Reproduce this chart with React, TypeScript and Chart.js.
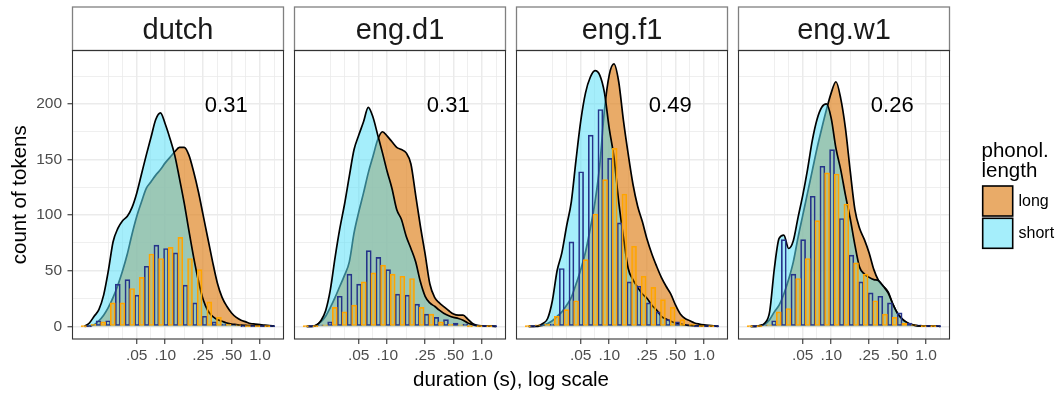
import React, { useEffect, useRef } from 'react';
import { Chart, registerables } from 'chart.js';

Chart.register(...registerables);

const FONT = "'Liberation Sans', Arial, Helvetica, sans-serif";

// ---- facets and annotations -------------------------------------------
const LANGUAGES = ['dutch', 'eng.d1', 'eng.f1', 'eng.w1'];
const OVERLAP_LABELS = ['0.31', '0.31', '0.49', '0.26'];
const OVERLAP_LABEL_X = 0.44; // seconds
const OVERLAP_LABEL_Y = 200; // tokens

const LENGTH_GROUPS = ['long', 'short'];
const LEGEND_TITLE = ['phonol.', 'length'];
const X_TITLE = 'duration (s), log scale';
const Y_TITLE = 'count of tokens';

// ---- axes ---------------------------------------------------------------
const X_BREAKS = [0.05, 0.1, 0.25, 0.5, 1.0];
const X_BREAK_LABELS = ['.05', '.10', '.25', '.50', '1.0'];
const X_MINOR_BREAKS = [0.025, 0.03536, 0.07071, 0.1581, 0.3536, 0.7071, 1.414];
const X_LIMITS = [0.01051, 1.7701];

const Y_BREAKS = [0, 50, 100, 150, 200];
const Y_MINOR_BREAKS = [25, 75, 125, 175, 225];
const Y_LIMITS = [-11.43, 248.1];

// ---- histogram bins (bin centres, seconds) ------------------------------
const BIN_CENTERS = [
  0.01472, 0.01861, 0.02351, 0.02973, 0.03758, 0.04751, 0.06007, 0.07594, 0.09601, 0.1214,
  0.1535, 0.1941, 0.2453, 0.3101, 0.392, 0.4957, 0.6266, 0.7921, 1.0016, 1.2663,
];

const DUTCH_LONG_COUNTS = [0, 2, 4, 21, 21, 34, 44, 65, 61, 71, 80, 61, 51, 22, 8, 2, 1, 0, 0, 0];
const DUTCH_SHORT_COUNTS = [0, 5, 5, 38, 42, 28, 54, 73, 70, 66, 37, 21, 9, 4, 2, 1, 0, 0, 0, 0];
const ENGD1_LONG_COUNTS = [0, 0, 1, 17, 13, 19, 40, 48, 55, 47, 45, 43, 17, 11, 4, 2, 1, 0, 0, 0];
const ENGD1_SHORT_COUNTS = [0, 1, 4, 27, 47, 38, 68, 62, 51, 29, 28, 20, 11, 8, 6, 3, 2, 1, 0, 0];
const ENGF1_LONG_COUNTS = [0, 1, 2, 9, 15, 23, 60, 101, 132, 160, 119, 72, 45, 35, 24, 17, 6, 2, 0, 0];
const ENGF1_SHORT_COUNTS = [0, 1, 2, 52, 76, 139, 172, 195, 151, 93, 40, 36, 21, 13, 6, 4, 1, 0, 0, 0];
const ENGW1_LONG_COUNTS = [0, 0, 1, 13, 16, 43, 61, 95, 138, 137, 110, 57, 47, 23, 11, 8, 3, 1, 0, 0];
const ENGW1_SHORT_COUNTS = [0, 1, 5, 78, 47, 78, 117, 144, 159, 97, 64, 40, 30, 27, 21, 12, 3, 1, 0, 0];

// ---- density curves, scaled to counts ------------------------------------
const DENSITY_GRID = [
  0.01413, 0.01585, 0.01778, 0.01995, 0.02239, 0.02512, 0.02818, 0.03162, 0.03548, 0.03981,
  0.04467, 0.05012, 0.05623, 0.0631, 0.07079, 0.07943, 0.08913, 0.1, 0.1122, 0.1259,
  0.1413, 0.1585, 0.1778, 0.1995, 0.2239, 0.2512, 0.2818, 0.3162, 0.3548, 0.3981,
  0.4467, 0.5012, 0.5623, 0.631, 0.7079, 0.7943, 0.8913, 1.0, 1.122, 1.259, 1.413,
];

const DUTCH_LONG_DENSITY = [
  0, 0.5, 1.5, 5, 10, 17, 26, 37, 50, 65, 83, 99, 112, 124, 130, 136, 141, 147, 152, 157,
  161, 161, 154, 139, 121, 100, 79, 58, 39, 26, 18, 12, 8, 5.5, 4, 2.5, 2, 1.5, 1, 0.7, 0.3,
];
const DUTCH_SHORT_DENSITY = [
  0, 3, 9, 15, 28, 50, 76, 88, 95, 99, 107, 120, 137, 154, 170, 186, 192, 182, 169, 154,
  133, 111, 86, 62, 41, 24, 14, 9, 6, 4.5, 3, 2, 1.5, 1, 0.8, 0.6, 0.5, 0.5, 0.4, 0.3, 0.2,
];
const ENGD1_LONG_DENSITY = [
  0, 0, 1, 4, 9, 17, 26, 36, 46, 58, 84, 103, 120, 138, 153, 168, 175, 171, 166, 161,
  159, 156, 146, 118, 90, 65, 38, 26, 21, 17.5, 14, 11, 10, 10, 6.5, 2.5, 0.8, 0.3, 0.2, 0.1, 0,
];
const ENGD1_SHORT_DENSITY = [
  0, 0, 1, 5, 14, 33, 62, 88, 110, 135, 159, 172, 184, 197, 188, 172, 156, 139, 124, 105,
  96, 81, 70, 58, 40, 27, 21, 18, 14.5, 11.5, 9.5, 8, 7, 5.5, 3, 1.5, 0.5, 0.3, 0.2, 0.1, 0,
];
const ENGF1_LONG_DENSITY = [
  0, 0, 0, 1, 2.5, 5, 9, 13, 19, 26, 38, 51, 67, 88, 112, 145, 195, 226, 236, 220,
  185, 155, 128, 108, 94, 78, 65, 54, 44, 36, 29, 19, 11, 7, 5, 3, 2, 1.3, 0.8, 0.4, 0.2,
];
const ENGF1_SHORT_DENSITY = [
  0, 0, 0.5, 2.5, 7, 23, 50, 66, 90, 112, 150, 185, 210, 224, 230, 226, 210, 178, 152, 112,
  80, 52, 42, 35, 29, 25, 19, 14.5, 9, 6.5, 4.5, 3, 2, 1.2, 0.8, 0.5, 0.4, 0.3, 0.2, 0.1, 0,
];
const ENGW1_LONG_DENSITY = [
  0, 0, 0.5, 2, 6, 13, 19, 29, 42, 58, 80, 100, 120, 140, 160, 178, 195, 210, 220, 205,
  178, 140, 105, 88, 78, 66, 51, 41, 36, 31, 20, 11.5, 6.5, 3, 1.5, 0.6, 0.3, 0.2, 0.1, 0.1, 0,
];
const ENGW1_SHORT_DENSITY = [
  0, 0, 0.8, 3, 13, 52, 79, 82, 70, 77, 98, 118, 141, 167, 186, 197, 200, 187, 160, 141,
  118, 97, 73, 53, 47, 44, 42, 41, 36, 30, 20, 11.5, 6.5, 3.5, 1.5, 0.6, 0.3, 0.2, 0.1, 0.1, 0,
];

const FACETS = [
  { long: DUTCH_LONG_DENSITY, short: DUTCH_SHORT_DENSITY, longN: DUTCH_LONG_COUNTS, shortN: DUTCH_SHORT_COUNTS },
  { long: ENGD1_LONG_DENSITY, short: ENGD1_SHORT_DENSITY, longN: ENGD1_LONG_COUNTS, shortN: ENGD1_SHORT_COUNTS },
  { long: ENGF1_LONG_DENSITY, short: ENGF1_SHORT_DENSITY, longN: ENGF1_LONG_COUNTS, shortN: ENGF1_SHORT_COUNTS },
  { long: ENGW1_LONG_DENSITY, short: ENGW1_SHORT_DENSITY, longN: ENGW1_LONG_COUNTS, shortN: ENGW1_SHORT_COUNTS },
];

// ---- styling --------------------------------------------------------------
const LONG_FILL = 'rgba(224,135,40,0.7)';
const SHORT_FILL = 'rgba(91,224,248,0.55)';
const LONG_BAR_FILL = 'rgba(255,165,0,0.28)';
const LONG_BAR_LINE = '#FFA500';
const SHORT_BAR_LINE = '#25338A';
const GRID_COLOR = '#EBEBEB';
const TICK_TEXT = '#4D4D4D';

const CANVAS_W = 1059;
const CANVAS_H = 393;
const PANEL_LEFT = 72.5;
const PANEL_STEP = 222;
const PANEL_W = 211;
const PANEL_TOP = 50.5;
const PANEL_BOTTOM = 339;
const STRIP_TOP = 7;
const Y_AXIS_W = 72.5;
const X_AXIS_H = 40;

const near = (a: number, b: number) => Math.abs(a - b) / Math.abs(b || 1) < 1e-3;
const isMajorX = (v: number) => X_BREAKS.some((b) => near(v, b));
const isMajorY = (v: number) => Y_BREAKS.some((b) => near(v, b));

const facetDecor = {
  id: 'facetDecor',
  afterDraw(chart: any, _args: any, opts: any) {
    const { ctx, chartArea } = chart;
    const { left, top, right, bottom } = chartArea;
    const w = right - left;
    ctx.save();

    // strip with facet name
    ctx.fillStyle = '#FFFFFF';
    ctx.fillRect(left, STRIP_TOP, w, top - STRIP_TOP);
    ctx.strokeStyle = '#808080';
    ctx.lineWidth = 1.3;
    ctx.strokeRect(left, STRIP_TOP, w, top - STRIP_TOP);
    ctx.fillStyle = '#1A1A1A';
    ctx.font = `29px ${FONT}`;
    ctx.textAlign = 'center';
    ctx.textBaseline = 'alphabetic';
    ctx.fillText(opts.strip, left + w / 2, top - 11.2);

    // panel border
    ctx.strokeStyle = '#333333';
    ctx.lineWidth = 1.1;
    ctx.strokeRect(left, top, w, bottom - top);

    // overlap value
    const xs = chart.scales.x;
    const ys = chart.scales.y;
    ctx.fillStyle = '#000000';
    ctx.font = `22px ${FONT}`;
    ctx.fillText(opts.note, xs.getPixelForValue(OVERLAP_LABEL_X), ys.getPixelForValue(OVERLAP_LABEL_Y) + 8);

    if (opts.axisTitles) {
      ctx.font = `20.5px ${FONT}`;
      ctx.textBaseline = 'middle';
      ctx.fillText(X_TITLE, (PANEL_LEFT + PANEL_LEFT + 3 * PANEL_STEP + PANEL_W) / 2, 380);
      ctx.save();
      ctx.translate(20, (PANEL_TOP + PANEL_BOTTOM) / 2);
      ctx.rotate(-Math.PI / 2);
      ctx.fillText(Y_TITLE, 0, 0);
      ctx.restore();
    }

    if (opts.legend) {
      ctx.textAlign = 'left';
      ctx.textBaseline = 'alphabetic';
      ctx.font = `20.5px ${FONT}`;
      ctx.fillStyle = '#000000';
      ctx.fillText(LEGEND_TITLE[0], 981.5, 156.5);
      ctx.fillText(LEGEND_TITLE[1], 981.5, 177);
      const fills = [LONG_FILL, SHORT_FILL];
      LENGTH_GROUPS.forEach((g, i) => {
        const y = 186 + i * 32.3;
        ctx.fillStyle = '#FFFFFF';
        ctx.fillRect(982.7, y, 30, 30);
        ctx.fillStyle = fills[i];
        ctx.fillRect(982.7, y, 30, 30);
        ctx.strokeStyle = '#000000';
        ctx.lineWidth = 1.6;
        ctx.strokeRect(982.7, y, 30, 30);
        ctx.fillStyle = '#000000';
        ctx.font = `16px ${FONT}`;
        ctx.textBaseline = 'middle';
        ctx.fillText(g, 1018.5, y + 15.5);
        ctx.textBaseline = 'alphabetic';
      });
    }
    ctx.restore();
  },
};

function buildConfig(i: number): any {
  const f = FACETS[i];
  const left = PANEL_LEFT + i * PANEL_STEP;
  const right = left + PANEL_W;
  const showY = i === 0;
  const densityStyle = {
    type: 'line',
    fill: 'origin',
    borderColor: '#000000',
    borderWidth: 1.7,
    pointRadius: 0,
    cubicInterpolationMode: 'monotone',
    borderJoinStyle: 'round',
  };
  const barStyle = {
    type: 'bar',
    barThickness: 5,
    borderWidth: 1,
    borderSkipped: false,
    minBarLength: 1.5,
    grouped: true,
  };
  return {
    type: 'bar',
    data: {
      datasets: [
        {
          ...densityStyle,
          label: LENGTH_GROUPS[0],
          data: DENSITY_GRID.map((x, k) => ({ x, y: f.long[k] })),
          backgroundColor: LONG_FILL,
          order: 4,
        },
        {
          ...densityStyle,
          label: LENGTH_GROUPS[1],
          data: DENSITY_GRID.map((x, k) => ({ x, y: f.short[k] })),
          backgroundColor: SHORT_FILL,
          order: 3,
        },
        {
          ...barStyle,
          label: LENGTH_GROUPS[0] + ' count',
          data: BIN_CENTERS.map((x, k) => ({ x, y: f.longN[k] })),
          backgroundColor: LONG_BAR_FILL,
          borderColor: LONG_BAR_LINE,
          order: 1,
        },
        {
          ...barStyle,
          label: LENGTH_GROUPS[1] + ' count',
          data: BIN_CENTERS.map((x, k) => ({ x, y: f.shortN[k] })),
          backgroundColor: 'rgba(0,0,0,0)',
          borderColor: SHORT_BAR_LINE,
          order: 2,
        },
      ],
    },
    options: {
      responsive: false,
      maintainAspectRatio: false,
      animation: false,
      events: [],
      layout: {
        padding: {
          left: showY ? left - Y_AXIS_W : left,
          right: CANVAS_W - right,
          top: PANEL_TOP,
          bottom: CANVAS_H - PANEL_BOTTOM - X_AXIS_H,
        },
      },
      plugins: {
        legend: { display: false },
        tooltip: { enabled: false },
        title: { display: false },
        facetDecor: {
          strip: LANGUAGES[i],
          note: OVERLAP_LABELS[i],
          axisTitles: i === 0,
          legend: i === 3,
        },
      },
      scales: {
        x: {
          type: 'logarithmic',
          min: X_LIMITS[0],
          max: X_LIMITS[1],
          bounds: 'data',
          offset: false,
          afterBuildTicks: (s: any) => {
            s.ticks = [...X_MINOR_BREAKS, ...X_BREAKS].sort((a, b) => a - b).map((v) => ({ value: v }));
          },
          afterFit: (s: any) => {
            s.height = X_AXIS_H;
          },
          border: { display: false },
          grid: {
            offset: false,
            color: GRID_COLOR,
            lineWidth: (c: any) => (c.tick && isMajorX(c.tick.value) ? 1.5 : 0.8),
            drawTicks: true,
            tickLength: 5,
            tickWidth: 1.1,
            tickColor: (c: any) => (c.tick && isMajorX(c.tick.value) ? '#333333' : 'rgba(0,0,0,0)'),
          },
          ticks: {
            autoSkip: false,
            maxRotation: 0,
            minRotation: 0,
            padding: 2.5,
            color: TICK_TEXT,
            font: { size: 15.5, family: FONT },
            callback: (v: number) => {
              const k = X_BREAKS.findIndex((b) => near(v, b));
              return k >= 0 ? X_BREAK_LABELS[k] : '';
            },
          },
        },
        y: {
          type: 'linear',
          min: Y_LIMITS[0],
          max: Y_LIMITS[1],
          bounds: 'data',
          beginAtZero: false,
          afterBuildTicks: (s: any) => {
            s.ticks = [...Y_BREAKS, ...Y_MINOR_BREAKS].sort((a, b) => a - b).map((v) => ({ value: v }));
          },
          afterFit: (s: any) => {
            s.width = showY ? Y_AXIS_W : 0;
          },
          border: { display: false },
          grid: {
            color: GRID_COLOR,
            lineWidth: (c: any) => (c.tick && isMajorY(c.tick.value) ? 1.5 : 0.8),
            drawTicks: showY,
            tickLength: 5,
            tickWidth: 1.1,
            tickColor: (c: any) => (c.tick && isMajorY(c.tick.value) ? '#333333' : 'rgba(0,0,0,0)'),
          },
          ticks: {
            display: showY,
            padding: 5.5,
            color: TICK_TEXT,
            font: { size: 15.5, family: FONT },
            callback: (v: number) => (isMajorY(v) ? String(v) : ''),
          },
        },
      },
    },
    plugins: [facetDecor],
  };
}

function FacetPanel({ index }: { index: number }) {
  const ref = useRef<HTMLCanvasElement>(null);
  useEffect(() => {
    if (!ref.current) return;
    const chart = new Chart(ref.current, buildConfig(index));
    return () => chart.destroy();
  }, [index]);
  return (
    <canvas
      ref={ref}
      width={CANVAS_W}
      height={CANVAS_H}
      style={{ position: 'absolute', left: 0, top: 0, width: CANVAS_W, height: CANVAS_H }}
    />
  );
}

export default function App() {
  return (
    <div
      style={{
        position: 'absolute',
        left: 0,
        top: 0,
        width: CANVAS_W,
        height: CANVAS_H,
        overflow: 'hidden',
        background: '#FFFFFF',
      }}
    >
      {LANGUAGES.map((_, i) => (
        <FacetPanel key={i} index={i} />
      ))}
    </div>
  );
}
